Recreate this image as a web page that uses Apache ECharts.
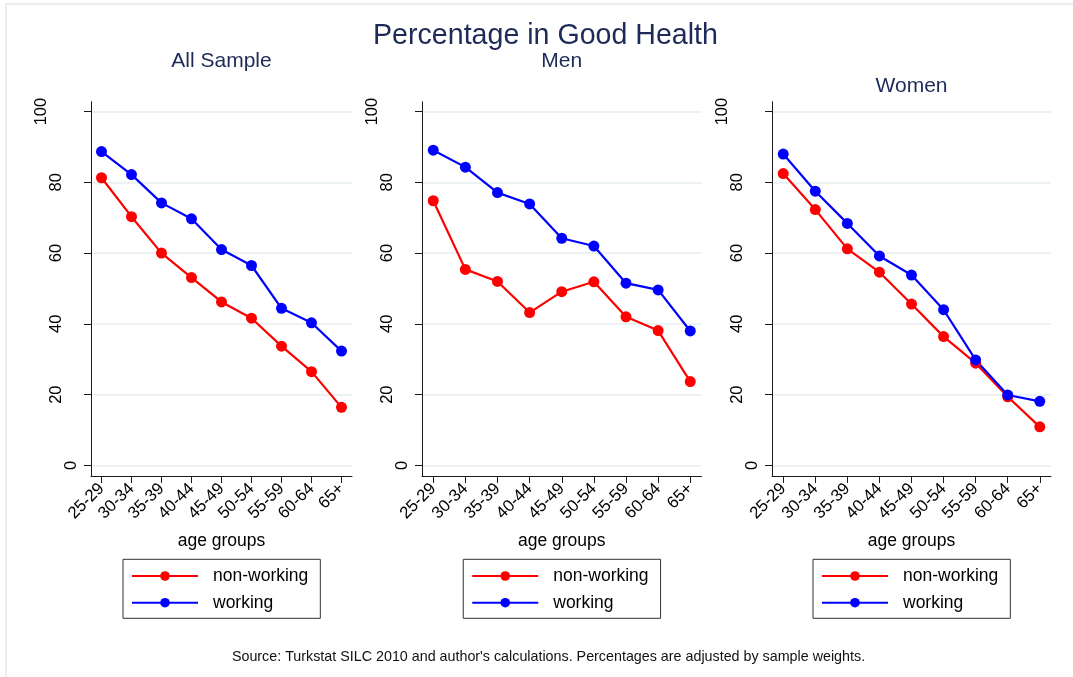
<!DOCTYPE html>
<html>
<head>
<meta charset="utf-8">
<script src="https://cdn.jsdelivr.net/npm/echarts@6/dist/echarts.min.js"></script>
<style>
  html, body { margin: 0; padding: 0; background: #ffffff; }
  #chart { width: 1073px; height: 677px; }
</style>
</head>
<body>
<div id="chart"></div>
<script>
// Age groups on the category axis
const ageGroups = ['25-29', '30-34', '35-39', '40-44', '45-49', '50-54', '55-59', '60-64', '65+'];
const yTicks = [0, 20, 40, 60, 80, 100];

// Percentage in good health by group
const allNonWorking   = [81.3, 70.3, 60.0, 53.1, 46.2, 41.6, 33.7, 26.5, 16.4];
const allWorking      = [88.7, 82.2, 74.2, 69.7, 61.0, 56.5, 44.4, 40.3, 32.3];
const menNonWorking   = [74.8, 55.4, 52.0, 43.2, 49.1, 51.9, 42.0, 38.1, 23.7];
const menWorking      = [89.1, 84.3, 77.1, 73.9, 64.2, 62.0, 51.5, 49.6, 38.0];
const womenNonWorking = [82.5, 72.3, 61.2, 54.6, 45.6, 36.4, 28.9, 19.4, 10.9];
const womenWorking    = [88.0, 77.5, 68.4, 59.2, 53.8, 44.0, 29.8, 19.9, 18.1];

const seriesNames = ['non-working', 'working'];
const panelTitles = ['All Sample', 'Men', 'Women'];
const mainTitle = 'Percentage in Good Health';
const xAxisTitle = 'age groups';
const sourceNote = "Source: Turkstat SILC 2010 and author's calculations. Percentages are adjusted by sample weights.";

const FONT = '"Liberation Sans", Arial, Helvetica, sans-serif';
const NAVY = '#1c2b57';
const AXIS = '#1a1a1a';
const GRID = '#e6eef0';
const RED = '#ff0000';
const BLUE = '#0000ff';

// Layout of the three plot regions
const panels = [
  { left: 91,  width: 261,   titleY: 61, nonWorking: allNonWorking,   working: allWorking },
  { left: 422, width: 279.5, titleY: 61, nonWorking: menNonWorking,   working: menWorking },
  { left: 772, width: 279,   titleY: 86, nonWorking: womenNonWorking, working: womenWorking }
];
const plotTop = 101.7;
const plotHeight = 374.3;

const chart = echarts.init(document.getElementById('chart'), null, { renderer: 'canvas' });

const grid = [], xAxis = [], yAxis = [], series = [], legend = [], graphic = [];

// light outer frame
graphic.push({
  type: 'rect', shape: { x: 6, y: 4, width: 1200, height: 800 },
  style: { fill: 'none', stroke: '#e8eef1', lineWidth: 2 }, silent: true
});
graphic.push({
  type: 'text', x: 545.5, y: 36.5,
  style: { text: mainTitle, fontSize: 28.6, fontFamily: FONT, fill: NAVY, align: 'center', verticalAlign: 'middle' }
});
graphic.push({
  type: 'text', x: 548.5, y: 657,
  style: { text: sourceNote, fontSize: 14.3, fontFamily: FONT, fill: '#111', align: 'center', verticalAlign: 'middle' }
});

panels.forEach((p, i) => {
  grid.push({ left: p.left, top: plotTop, width: p.width, height: plotHeight, containLabel: false });

  xAxis.push({
    gridIndex: i, type: 'value', min: -0.35, max: 8.35,
    name: xAxisTitle, nameLocation: 'middle', nameGap: 56,
    nameTextStyle: { fontSize: 17.5, fontFamily: FONT, color: '#000' },
    axisLine: { show: true, onZero: false, lineStyle: { color: AXIS, width: 1 } },
    axisTick: { show: true, length: 7, customValues: ageGroups.map((_, k) => k), lineStyle: { color: AXIS } },
    axisLabel: {
      customValues: ageGroups.map((_, k) => k),
      formatter: v => ageGroups[Math.round(v)],
      rotate: 45, margin: 10, fontSize: 16.8, fontFamily: FONT, color: '#000', hideOverlap: false
    },
    splitLine: { show: false }
  });

  yAxis.push({
    gridIndex: i, type: 'value', min: -3, max: 102.8,
    axisLine: { show: true, onZero: false, lineStyle: { color: AXIS, width: 1 } },
    axisTick: { show: true, length: 7, customValues: yTicks, lineStyle: { color: AXIS } },
    axisLabel: {
      customValues: yTicks,
      rotate: 90, align: 'center', verticalAlign: 'bottom', margin: 11,
      formatter: v => '{l' + String(v).length + '|' + v + '}',
      rich: {
        l1: { fontSize: 16.5, fontFamily: FONT, color: '#000', padding: [0, 0, 0, 0] },
        l2: { fontSize: 16.5, fontFamily: FONT, color: '#000', padding: [0, 0, 15, 0] },
        l3: { fontSize: 16.5, fontFamily: FONT, color: '#000', padding: [0, 0, 30, 0] }
      },
      hideOverlap: false
    },
    splitLine: { show: true, lineStyle: { color: GRID, width: 1.5 } }
  });

  [[seriesNames[0], p.nonWorking, RED], [seriesNames[1], p.working, BLUE]].forEach(([name, vals, color]) => {
    series.push({
      type: 'line', name, xAxisIndex: i, yAxisIndex: i,
      data: vals.map((v, k) => [k, v]),
      symbol: 'circle', symbolSize: 11, showSymbol: true,
      lineStyle: { color, width: 2.2 }, itemStyle: { color },
      emphasis: { disabled: true }, animation: false
    });
  });

  legend.push({
    orient: 'vertical',
    left: p.left + p.width / 2 - 98.5, top: 559.3,
    data: seriesNames,
    itemWidth: 66, itemHeight: 12, itemGap: 8.7,
    padding: [7.7, 12, 6.6, 8],
    borderColor: '#333', borderWidth: 1,
    textStyle: { fontSize: 17.5, fontFamily: FONT, color: '#000', lineHeight: 18, padding: [0, 0, 0, 10] },
    selectedMode: false
  });

  graphic.push({
    type: 'text', x: p.left + p.width / 2, y: p.titleY,
    style: { text: panelTitles[i], fontSize: 21, fontFamily: FONT, fill: NAVY, align: 'center', verticalAlign: 'middle' }
  });
});

chart.setOption({
  backgroundColor: '#ffffff',
  animation: false,
  grid, xAxis, yAxis, series, legend, graphic,
  tooltip: { show: false }
});
</script>
</body>
</html>
